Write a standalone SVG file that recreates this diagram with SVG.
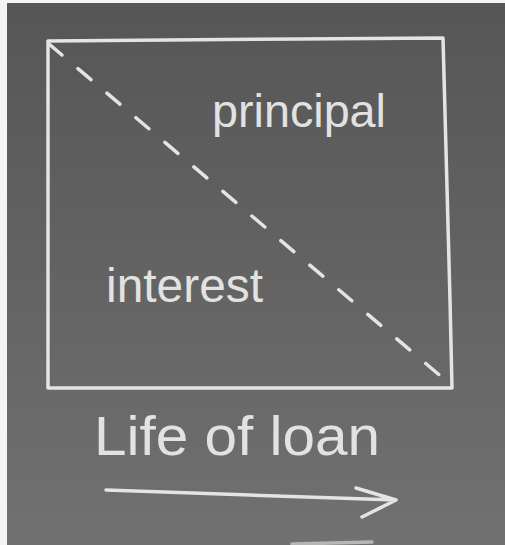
<svg xmlns="http://www.w3.org/2000/svg" width="505" height="545" viewBox="0 0 505 545">
  <defs>
    <linearGradient id="board" x1="0" y1="0" x2="0" y2="1">
      <stop offset="0" stop-color="#565656"/>
      <stop offset="0.5" stop-color="#636363"/>
      <stop offset="1" stop-color="#717171"/>
    </linearGradient>
    <style>
      .chalk { fill: none; stroke: #e4e4e2; stroke-width: 3.5; stroke-linecap: round; stroke-linejoin: round; }
      .dash { stroke-dasharray: 17 21; }
      .label { font-family: "Liberation Sans", "DejaVu Sans", sans-serif; fill: #e2e2e0; }
    </style>
  </defs>

  <!-- paper margin and chalkboard -->
  <rect x="0" y="0" width="505" height="545" fill="#f4f4f4"/>
  <rect x="7" y="3" width="498" height="542" fill="url(#board)"/>

  <!-- payment box -->
  <g id="box">
    <path class="chalk" d="M48 41 L300 39 L443 38 L446 150 L450 300 L452 388 L250 388 L48 388 L48 200 Z"/>
  </g>

  <!-- split between interest and principal, time arrow -->
  <g id="connectors">
    <path class="chalk dash" d="M49 44 L450 384"/>
    <path class="chalk" d="M106 490 L250 495 L396 500 M356 488 L396 500 L362 517"/>
    <path class="chalk" d="M292 544 L372 542" stroke-width="3" opacity="0.6"/>
  </g>

  <g id="principal">
    <text class="label" x="212" y="127" font-size="47" textLength="174" lengthAdjust="spacingAndGlyphs">principal</text>
  </g>
  <g id="interest">
    <text class="label" x="106" y="302" font-size="48" textLength="157" lengthAdjust="spacingAndGlyphs">interest</text>
  </g>
  <g id="life-of-loan">
    <text class="label" x="94" y="455" font-size="56" textLength="286" lengthAdjust="spacingAndGlyphs">Life of loan</text>
  </g>
</svg>
